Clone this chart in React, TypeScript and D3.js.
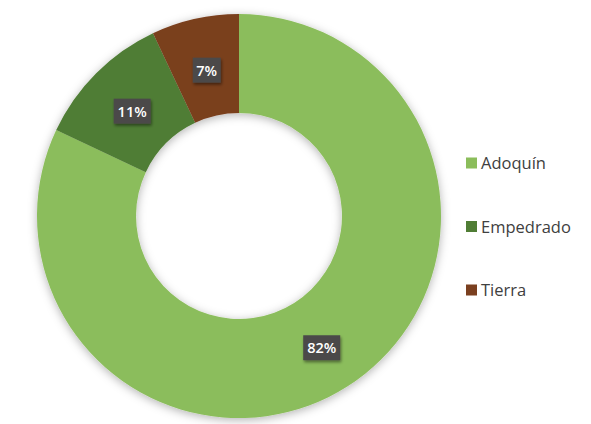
import React from "react";
import * as d3 from "d3";

const categories = ["Adoquín", "Empedrado", "Tierra"];
const values = [82, 11, 7];
const colors = ["#8BBD5B", "#507D35", "#7A3F1F"];

export default function App() {
  const W = 591, H = 424;
  const cx = 239, cy = 216, R = 202, r = 103;
  const pie = d3.pie<number>().sort(null).value((d) => d)(values);
  const arc = d3.arc<d3.PieArcDatum<number>>().innerRadius(r).outerRadius(R);
  const total = d3.sum(values);
  const legendY = d3.scalePoint<string>().domain(categories).range([163, 290]);
  return (
    <svg width={W} height={H} style={{ position: "absolute", left: 0, top: 0, background: "#fff" }}>
      <defs>
        <filter id="sh" x="-20%" y="-20%" width="140%" height="140%">
          <feDropShadow dx="0" dy="2" stdDeviation="5" floodColor="#000" floodOpacity="0.3" />
        </filter>
        <filter id="lsh" x="-30%" y="-30%" width="160%" height="160%">
          <feDropShadow dx="1" dy="2" stdDeviation="1.5" floodColor="#000" floodOpacity="0.45" />
        </filter>
      </defs>
      <g transform={`translate(${cx},${cy})`}>
        <g filter="url(#sh)">
          {pie.map((p, i) => (
            <path key={i} d={arc(p) || ""} fill={colors[i]} />
          ))}
        </g>
        {pie.map((p, i) => {
          const [x, y] = arc.centroid(p);
          const label = `${Math.round((values[i] / total) * 100)}%`;
          const w = label.length * 9 + 10;
          return (
            <g key={i} transform={`translate(${x + 1},${y + 3})`}>
              <rect x={-w / 2} y={-12.5} width={w} height={25} fill="#4B4949" filter="url(#lsh)" />
              <text textAnchor="middle" dy="5.5" fill="#fff" fontFamily="Open Sans, sans-serif" fontWeight="600" fontSize={14.5}>
                {label}
              </text>
            </g>
          );
        })}
      </g>
      {categories.map((c, i) => (
        <g key={c} transform={`translate(466,${legendY(c)})`}>
          <rect x={0} y={-5.5} width={11} height={11} fill={colors[i]} />
          <text x={15} dy="6" fill="#404040" fontFamily="Open Sans, sans-serif" fontSize={16.5}>
            {c}
          </text>
        </g>
      ))}
    </svg>
  );
}
